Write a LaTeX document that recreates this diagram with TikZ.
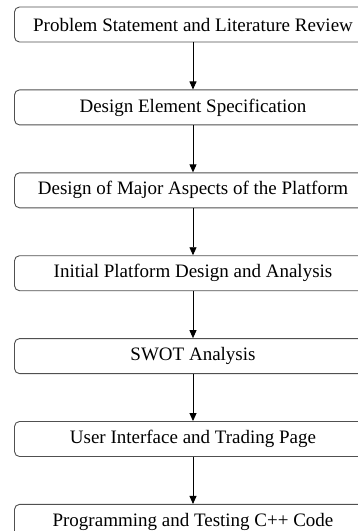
\documentclass[tikz,border=0pt]{standalone}
\usepackage{fontspec}
\setmainfont{Liberation Serif}
\usetikzlibrary{positioning,arrows.meta}
\definecolor{boxline}{RGB}{80,80,80}
\begin{document}
\begin{tikzpicture}
    [x=1pt,y=1pt,
    stage/.style={draw=boxline,line width=0.9pt,rounded corners=5pt,
        minimum width=357pt,minimum height=35pt,inner sep=0pt,
        font=\fontsize{19}{21}\selectfont},
    flow/.style={-{Triangle[width=7pt,length=8pt]},line width=0.9pt},
    node distance=47pt]
    %frame
    \useasboundingbox (0,0) rectangle (358,-531);
    %stages
    \node[stage] (s1) at (193,-24.5) {Problem Statement and Literature Review};
    \node[stage,below=of s1] (s2) {Design Element Specification};
    \node[stage,below=of s2] (s3) {Design of Major Aspects of the Platform};
    \node[stage,below=of s3] (s4) {Initial Platform Design and Analysis};
    \node[stage,below=of s4] (s5) {SWOT Analysis};
    \node[stage,below=of s5] (s6) {User Interface and Trading Page};
    \node[stage,below=of s6] (s7) {Programming and Testing C++ Code};
    %arrows
    \draw[flow] (s1) -- (s2);
    \draw[flow] (s2) -- (s3);
    \draw[flow] (s3) -- (s4);
    \draw[flow] (s4) -- (s5);
    \draw[flow] (s5) -- (s6);
    \draw[flow] (s6) -- (s7);
\end{tikzpicture}
\end{document}
